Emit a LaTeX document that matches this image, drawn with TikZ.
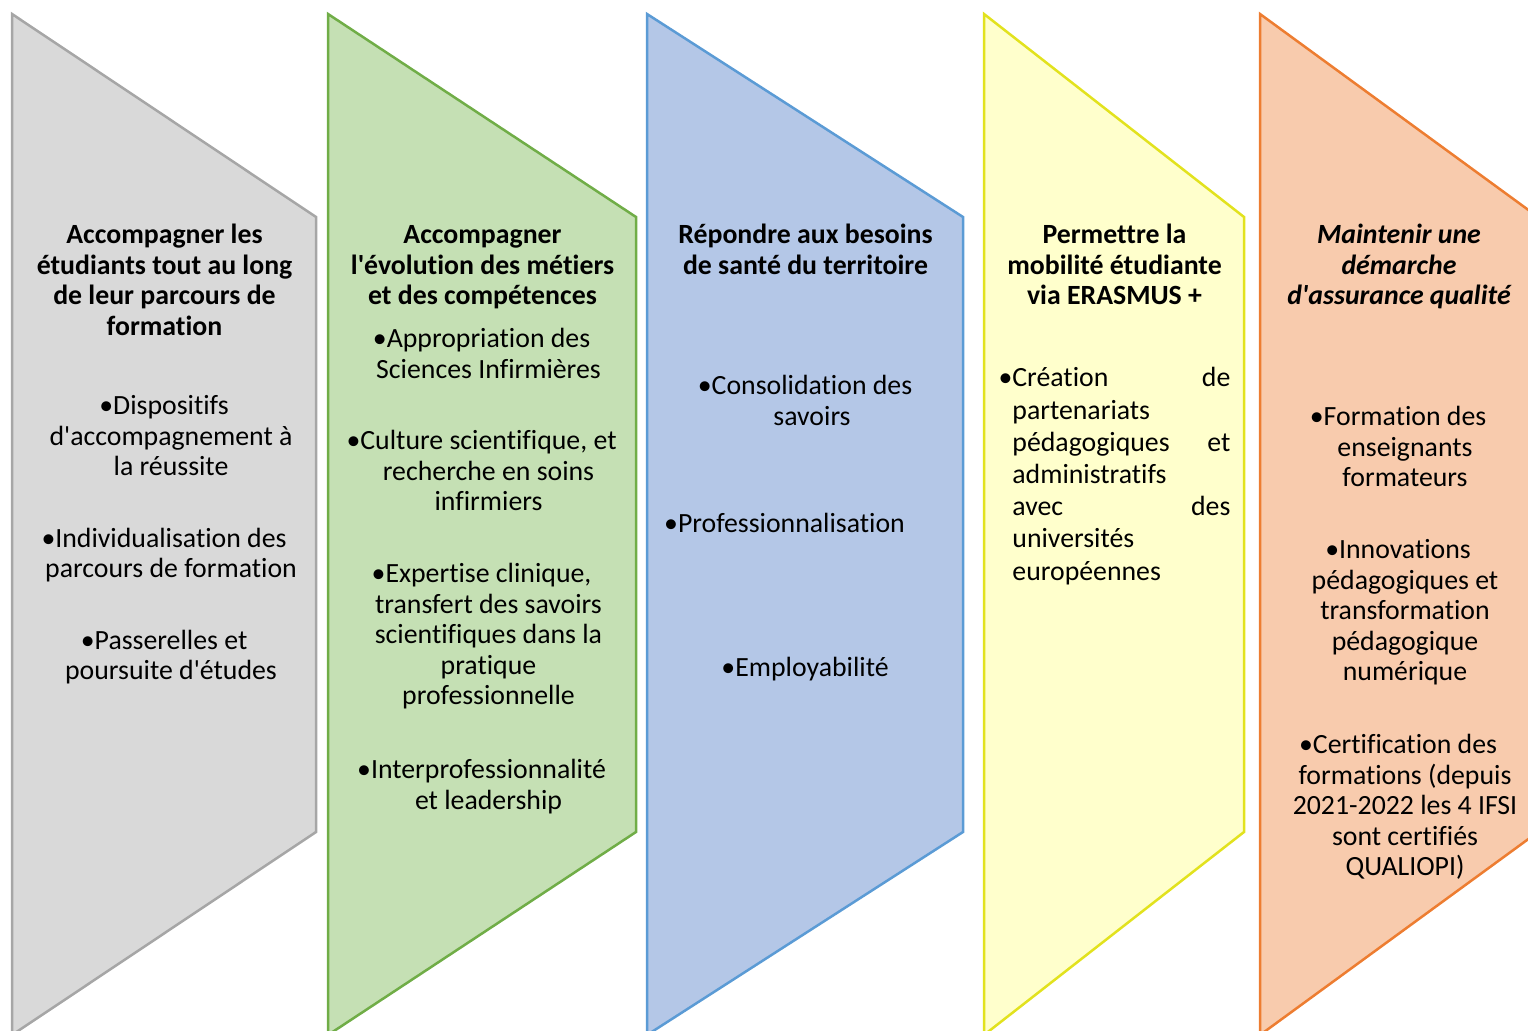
\documentclass[tikz,border=0pt]{standalone}
\usepackage{fontspec}
\setmainfont{Carlito}[Ligatures={TeXOff,CommonOff}]
\usepackage{xcolor}
\definecolor{fillgrey}{HTML}{D9D9D9}
\definecolor{linegrey}{HTML}{A6A6A6}
\definecolor{fillgreen}{HTML}{C5E0B4}
\definecolor{linegreen}{HTML}{70AD47}
\definecolor{fillblue}{HTML}{B4C7E7}
\definecolor{lineblue}{HTML}{5B9BD5}
\definecolor{fillyellow}{HTML}{FFFFCC}
\definecolor{lineyellow}{HTML}{E2E21E}
\definecolor{fillorange}{HTML}{F8CBAD}
\definecolor{lineorange}{HTML}{ED7D31}
\newcommand{\tstrut}{\rule{0pt}{12.25pt}}
\newcommand{\bul}{\tstrut\llap{•}}

\begin{document}
\begin{tikzpicture}[x=0.5pt, y=-0.5pt,
    title/.style={font=\fontsize{13.9}{15.25}\selectfont\bfseries, align=center, anchor=north, inner sep=0pt},
    item/.style={font=\fontsize{13.9}{15.25}\selectfont, align=center, anchor=north, inner sep=0pt}]
    \clip (0,0) rectangle (1528,1031);

    % Chevrons
    \foreach \l/\r/\c in {12/316/grey, 328/636/green, 647/963/blue, 984/1244/yellow, 1260/1538/orange}
        \draw[draw=line\c, fill=fill\c, line width=1.25pt] (\l,14) -- (\r,217) -- (\r,832) -- (\l,1035) -- cycle;

    % Grey column
    \node[title] (parcours) at (164.5,219) {\tstrut Accompagner les\\étudiants tout au long\\de leur parcours de\\formation};
    \node[item] (dispositifs) at (171,390) {\bul Dispositifs\\d'accompagnement à\\la réussite};
    \node[item] (individualisation) at (171,522.5) {\bul Individualisation des\\parcours de formation};
    \node[item] (passerelles) at (171,624.5) {\bul Passerelles et\\poursuite d'études};

    % Green column
    \node[title] (metiers) at (482.5,219) {\tstrut Accompagner\\l'évolution des métiers\\et des compétences};
    \node[item] (appropriation) at (488.5,323) {\bul Appropriation des\\Sciences Infirmières};
    \node[item] (culture) at (488.5,425) {\bul Culture scientifique, et\\recherche en soins\\infirmiers};
    \node[item] (expertise) at (488.5,558) {\bul Expertise clinique,\\transfert des savoirs\\scientifiques dans la\\pratique\\professionnelle};
    \node[item] (interpro) at (488.5,754) {\bul Interprofessionnalité\\et leadership};

    % Blue column
    \node[title] (territoire) at (805.5,219) {\tstrut Répondre aux besoins\\de santé du territoire};
    \node[item] (consolidation) at (812,370) {\bul Consolidation des\\savoirs};
    \node[item] (profession) at (791.5,508) {\bul Professionnalisation};
    \node[item] (employabilite) at (812,652) {\bul Employabilité};

    % Yellow column
    \node[title] (mobilite) at (1114.5,219) {\tstrut Permettre la\\mobilité étudiante\\via ERASMUS +};
    \node[item, align=left, anchor=north west, font=\fontsize{13.9}{16.1}\selectfont] (creation) at (1012,362)
        {\bul\makebox[109pt][s]{Création de}\\partenariats\\\makebox[109pt][s]{pédagogiques et}\\administratifs\\\makebox[109pt][s]{avec des}\\universités\\européennes};

    % Orange column
    \node[title, font=\fontsize{13.9}{15.25}\selectfont\bfseries\itshape] (qualite) at (1399,219) {\tstrut Maintenir une\\démarche\\d'assurance qualité};
    \node[item] (enseignants) at (1405,401) {\bul Formation des\\enseignants\\formateurs};
    \node[item] (innovations) at (1405,534) {\bul Innovations\\pédagogiques et\\transformation\\pédagogique\\numérique};
    \node[item] (certification) at (1405,729) {\bul Certification des\\formations (depuis\\2021-2022 les 4 IFSI\\sont certifiés\\QUALIOPI)};
\end{tikzpicture}
\end{document}
